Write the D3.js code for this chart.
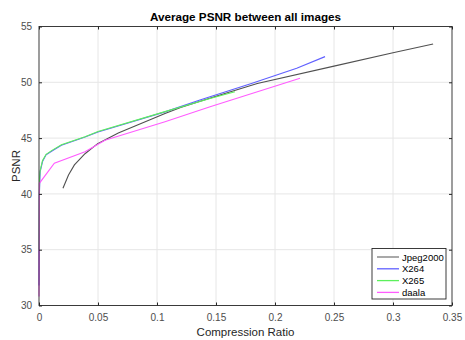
<!DOCTYPE html>
<html><head><meta charset="utf-8">
<script src="https://cdn.jsdelivr.net/npm/d3@7"></script>
<style>body{margin:0;background:#fff}svg{display:block;font-family:"Liberation Sans",Arial,sans-serif}</style>
</head><body><svg id="c" width="465" height="340"></svg>
<script>
const seriesNames = ["Jpeg2000","X264","X265","daala"];
const seriesColors = ["#505050","#6060ff","#5cf05c","#ff5cff"];
const jpeg2000 = [[0.0203,40.5],[0.025,41.7],[0.03,42.6],[0.039,43.6],[0.0497,44.5],[0.0672,45.45],[0.0814,46.08],[0.1068,47.2],[0.12,47.75],[0.15,48.75],[0.185,49.9],[0.25,51.45],[0.3,52.65],[0.334,53.43]];
const x264 = [[0,31.8],[0.0003,40],[0.001,42.0],[0.003,42.9],[0.006,43.5],[0.011,43.85],[0.019,44.35],[0.039,45.1],[0.05,45.55],[0.1068,47.35],[0.1364,48.42],[0.18,49.9],[0.2184,51.25],[0.2424,52.3]];
const x265 = [[0,35],[0.0005,41.5],[0.001,42.1],[0.003,43.0],[0.006,43.55],[0.011,43.9],[0.019,44.4],[0.039,45.13],[0.05,45.6],[0.1068,47.37],[0.145,48.55],[0.166,49.16]];
const daala = [[0,30.8],[0.0003,40.95],[0.013,42.75],[0.039,43.78],[0.0559,44.8],[0.1068,46.47],[0.145,47.8],[0.2212,50.36]];
const xTicks = [0,0.05,0.1,0.15,0.2,0.25,0.3,0.35];
const yTicks = [30,35,40,45,50,55];

const svg = d3.select("#c");
const L=39,R=452,T=26.5,B=305.5;
const x = d3.scaleLinear().domain([0,0.35]).range([L,R]);
const y = d3.scaleLinear().domain([30,55]).range([B,T]);

// grid
svg.append("g").selectAll("line").data(xTicks.slice(1,-1)).join("line")
 .attr("x1",d=>x(d)).attr("x2",d=>x(d)).attr("y1",T).attr("y2",B).attr("stroke","#e6e6e6").attr("stroke-width",1);
svg.append("g").selectAll("line").data(yTicks.slice(1,-1)).join("line")
 .attr("y1",d=>y(d)).attr("y2",d=>y(d)).attr("x1",L).attr("x2",R).attr("stroke","#e6e6e6").attr("stroke-width",1);

// series
const line = d3.line().x(d=>x(d[0])).y(d=>y(d[1]));
[jpeg2000,x264,x265,daala].forEach((s,i)=>{
  svg.append("path").datum(s).attr("d",line).attr("fill","none").attr("stroke",seriesColors[i]).attr("stroke-width",1.1);
});

// axes
function styleAxis(g){
  g.select(".domain").remove();
  g.selectAll(".tick line").attr("stroke","#262626");
  g.selectAll(".tick text").attr("fill","#4d4d4d").style("font-size","10px").style("font-family","Liberation Sans, Arial, sans-serif");
}
svg.append("g").attr("transform",`translate(0,${B})`)
 .call(d3.axisBottom(x).tickValues(xTicks).tickFormat(d=>d).tickSizeInner(-3).tickSizeOuter(0).tickPadding(8)).call(styleAxis);
svg.append("g").attr("transform",`translate(0,${T})`)
 .call(d3.axisTop(x).tickValues(xTicks).tickFormat("").tickSizeInner(-3).tickSizeOuter(0)).call(styleAxis);
svg.append("g").attr("transform",`translate(${L},0)`)
 .call(d3.axisLeft(y).tickValues(yTicks).tickFormat(d=>d).tickSizeInner(-3).tickSizeOuter(0).tickPadding(7)).call(styleAxis);
svg.append("g").attr("transform",`translate(${R},0)`)
 .call(d3.axisRight(y).tickValues(yTicks).tickFormat("").tickSizeInner(-3).tickSizeOuter(0)).call(styleAxis);

svg.append("rect").attr("x",L).attr("y",T).attr("width",R-L).attr("height",B-T)
 .attr("fill","none").attr("stroke","#262626").attr("stroke-width",0.9);

// title & labels
svg.append("text").attr("x",(L+R)/2).attr("y",20.5).attr("text-anchor","middle")
 .style("font-size","11.7px").style("font-weight","bold").attr("fill","#000").text("Average PSNR between all images");
svg.append("text").attr("x",(L+R)/2).attr("y",335.5).attr("text-anchor","middle")
 .style("font-size","11.5px").attr("fill","#262626").text("Compression Ratio");
svg.append("text").attr("transform",`translate(19.5,${(T+B)/2}) rotate(-90)`).attr("text-anchor","middle")
 .style("font-size","11.5px").attr("fill","#262626").text("PSNR");

// legend
const lg = svg.append("g").attr("transform","translate(372,248.5)");
lg.append("rect").attr("width",74).attr("height",50.5).attr("fill","#fff").attr("stroke","#262626").attr("stroke-width",0.9);
seriesNames.forEach((n,i)=>{
  const yy = 8.5+i*11.8;
  lg.append("line").attr("x1",5).attr("x2",27).attr("y1",yy).attr("y2",yy).attr("stroke",seriesColors[i]).attr("stroke-width",1.3).attr("opacity",i===0?0.75:1);
  lg.append("text").attr("x",30).attr("y",yy+3.5).style("font-size","9.5px").attr("fill","#000").text(n);
});
</script></body></html>
